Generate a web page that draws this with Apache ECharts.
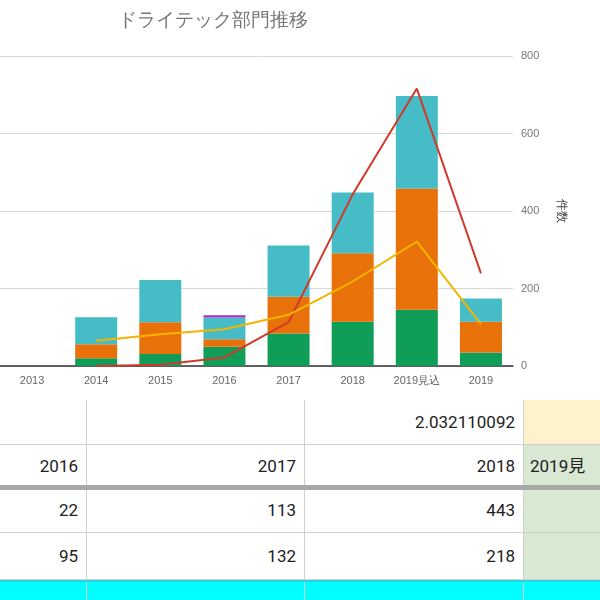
<!DOCTYPE html>
<html>
<head>
<meta charset="utf-8">
<script src="https://cdn.jsdelivr.net/npm/echarts@6/dist/echarts.min.js"></script>
<style>
body { margin: 0; background: #fff; font-family: Roboto, "Noto Sans CJK JP", sans-serif; }
#chart { position: absolute; left: 0; top: 0; width: 600px; height: 396px; }
#table { position: absolute; left: 0; top: 400px; width: 600px; height: 200px; overflow: hidden; }
.cell { position: absolute; box-sizing: border-box; text-align: right; padding-right: 8px; font-size: 17px; color: #222; }
</style>
</head>
<body>
<div id="chart"></div>
<div id="table"></div>
<script>
// 年度
var categories = ['2013', '2014', '2015', '2016', '2017', '2018', '2019見込', '2019'];
// 積み上げ棒
var greenData = [0, 20, 31, 50, 84, 114, 145, 35];
var orangeData = [0, 36, 82, 19, 95, 177, 313, 79];
var cyanData = [0, 70, 109, 56, 132, 157, 239, 60];
var purpleData = [0, 0, 0, 6, 0, 0, 0, 0];
// 折れ線
var redData = [null, 0, 3, 22, 113, 443, 716, 239];
var yellowData = [null, 65, 82, 95, 132, 218, 321, 108];
// 表
var tableRatio = '2.032110092';
var tableYears = ['2016', '2017', '2018', '2019見'];
var tableRowA = ['22', '113', '443', ''];
var tableRowB = ['95', '132', '218', ''];

var chart = echarts.init(document.getElementById('chart'));

function barSeries(name, data, color) {
    return { name: name, type: 'bar', stack: 'all', data: data, barWidth: 42, itemStyle: { color: color } };
}
function lineSeries(name, data, color) {
    return { name: name, type: 'line', data: data, symbol: 'none', z: 5, lineStyle: { color: color, width: 2 } };
}

option = {
    animation: false,
    title: {
        text: 'ドライテック部門推移',
        left: 113,
        top: 6,
        textStyle: { color: '#757575', fontSize: 19, fontWeight: 'normal' }
    },
    grid: { left: -7, right: 87, top: 56, bottom: 30 },
    xAxis: {
        type: 'category',
        data: categories,
        axisLine: { lineStyle: { color: '#333', width: 1.5 } },
        axisTick: { show: false },
        axisLabel: { color: '#666', fontSize: 11, margin: 9 }
    },
    yAxis: {
        type: 'value',
        position: 'right',
        min: 0, max: 800, interval: 200,
        name: '件数',
        nameLocation: 'middle',
        nameRotate: -90,
        nameGap: 42,
        nameTextStyle: { color: '#444', fontSize: 12 },
        axisLine: { show: false },
        axisTick: { show: false },
        axisLabel: { color: '#777', fontSize: 11, margin: 8 },
        splitLine: { lineStyle: { color: '#d8d8d8' } }
    },
    series: [
        barSeries('green', greenData, '#0f9d58'),
        barSeries('orange', orangeData, '#e8710a'),
        barSeries('cyan', cyanData, '#46bdc6'),
        barSeries('purple', purpleData, '#ab30c4'),
        lineSeries('red', redData, '#d0392b'),
        lineSeries('yellow', yellowData, '#f5b400')
    ]
};
chart.setOption(option);

// 表（スプレッドシート部分）
var tbl = document.getElementById('table');
var colX = [-130, 87, 305, 524, 720];
var rowY = [0, 45, 87, 133, 180, 240];
function cell(x, y, w, h, text, bg) {
    var d = document.createElement('div');
    d.className = 'cell';
    d.style.left = x + 'px'; d.style.top = y + 'px';
    d.style.width = w + 'px'; d.style.height = h + 'px';
    d.style.lineHeight = h + 'px';
    d.style.borderRight = '1.5px solid #cfcfcf';
    d.style.borderBottom = '1.5px solid #cfcfcf';
    if (bg) d.style.background = bg;
    d.textContent = text;
    tbl.appendChild(d);
}
var rows = [
    ['', '', tableRatio, ''],
    tableYears,
    tableRowA,
    tableRowB,
    ['', '', '', '']
];
for (var r = 0; r < rows.length; r++) {
    for (var c = 0; c < 4; c++) {
        var bg = null;
        if (c === 3) bg = r === 0 ? '#fdf2cc' : '#d9e8d2';
        if (r === 4) bg = '#00ffff';
        var txt = rows[r][c];
        var w = colX[c + 1] - colX[c];
        var d = cell(colX[c], rowY[r], w, rowY[r + 1] - rowY[r], txt, bg);
    }
}
// 2019見 は左寄せ
tbl.lastChild; 
var kids = tbl.children;
kids[7].style.textAlign = 'left';
kids[7].style.paddingLeft = '6px';
// 太い区切り線
var sep = document.createElement('div');
sep.style.cssText = 'position:absolute;left:0;top:85px;width:600px;height:5px;background:#a8a8a8;';
tbl.appendChild(sep);
var sep2 = document.createElement('div');
sep2.style.cssText = 'position:absolute;left:0;top:180px;width:600px;height:2px;background:#2ad3e0;';
tbl.appendChild(sep2);
</script>
</body>
</html>
